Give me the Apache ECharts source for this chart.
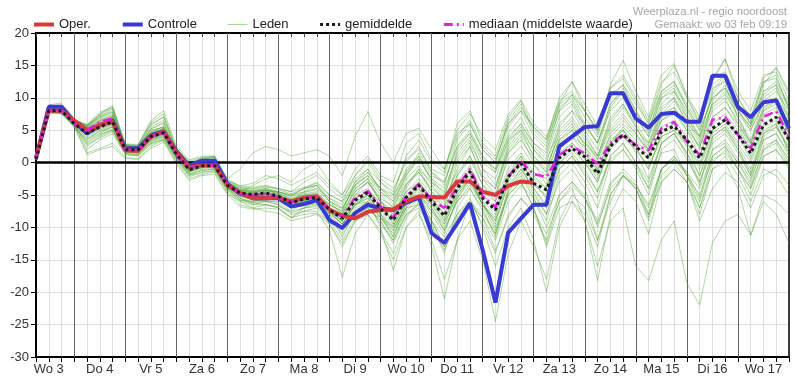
<!DOCTYPE html>
<html>
<head>
<meta charset="utf-8">
<script src="https://cdn.jsdelivr.net/npm/echarts@6/dist/echarts.min.js"></script>
<style>
html,body{margin:0;padding:0;background:#fff;}
#chart{width:796px;height:384px;}
</style>
</head>
<body>
<div id="chart"></div>
<script>
// Time steps: every 6 hours, starting Wo 3 06:00 (hour 6) up to hour 360
const startHour = 6;
const stepHours = 6;
const dayLabels = ['Wo 3','Do 4','Vr 5','Za 6','Zo 7','Ma 8','Di 9','Wo 10','Do 11','Vr 12','Za 13','Zo 14','Ma 15','Di 16','Wo 17'];
const dayBoundaries = [24,48,72,96,120,144,168,192,216,240,264,288,312,336];

const oper = [0.7,8.0,8.0, 6.5,5.0,5.8,6.3, 1.9,1.8,4.0,4.8, 1.6,-0.7,-0.4,-0.4, -3.5,-4.7,-5.5,-5.5, -5.4,-6.0,-5.4,-5.2, -7.3,-8.2,-8.6,-7.6, -7.3,-7.2,-6.0,-5.2, -5.3,-5.4,-2.9,-2.9, -4.5,-5.0,-3.6,-2.9, -3.1];

const controle = [0.7,8.6,8.6, 6.3,4.5,5.8,6.5, 2.2,2.2,4.2,4.8, 1.8,-0.5,0.3,0.3, -3.3,-4.8,-5.5,-5.5, -5.5,-6.8,-6.4,-5.8, -8.9,-10.1,-7.8,-6.5, -7.1,-7.3,-6.2,-5.4, -10.9,-12.4,-9.4,-6.3, -13.5,-21.6,-10.8,-8.6, -6.5,-6.5,2.5,4.0, 5.5,5.6,10.7,10.7, 6.8,5.4,7.5,7.7, 6.3,6.3,13.4,13.4, 8.6,7.0,9.3,9.6, 5.3];

const gemiddelde = [0.5,8.0,8.0, 6.0,4.5,5.5,6.3, 2.0,2.0,4.0,4.6, 1.3,-1.1,-0.5,-0.5, -3.5,-4.7,-4.9,-4.7, -5.2,-6.2,-5.6,-5.4, -7.3,-8.6,-5.8,-4.6, -7.1,-8.9,-5.4,-3.5, -6.0,-8.2,-4.0,-1.4, -5.5,-7.3,-2.2,-0.1, -3.2,-4.2,0.7,2.2, 0.9,-1.7,2.5,4.3, 2.5,0.7,4.8,5.6, 3.5,0.7,5.3,6.6, 4.3,1.4,5.8,7.0, 3.5];

const mediaan = [0.5,8.0,8.0, 6.0,5.0,6.3,6.8, 2.0,2.0,4.0,4.7, 1.2,-0.9,-0.4,-0.4, -3.5,-4.8,-5.0,-4.8, -5.3,-6.1,-5.5,-5.3, -7.2,-8.4,-5.4,-4.4, -6.8,-8.5,-5.2,-3.3, -5.8,-7.0,-3.7,-1.0, -5.2,-6.8,-2.2,0.2, -1.8,-2.2,1.2,2.5, 1.4,-0.2,3.0,4.3, 2.7,1.9,5.3,6.3, 3.2,1.2,6.6,7.0, 4.3,2.2,7.1,7.9, 4.0];

const leden = [
 [0.6,8.8,8.5, 6.2,5.5,6.8,7.5, 2.5,2.3,4.8,5.5, 1.5,-0.5,0.2,0.4, -3.0,-4.2,-4.5,-4.2, -4.8,-5.5,-4.8,-4.5, -6.5,-7.8,-4.5,-3.0, -5.5,-6.8,-3.2,-1.5, -4.0,-5.5,-1.5,1.0, -2.5,-4.0,1.5,3.5, 0.5,-1.5,3.5,5.0, 3.0,1.0,5.5,7.5, 5.0,3.0,7.5,8.5, 6.0,4.0,9.0,10.5, 7.5,5.0,9.5,11.0, 8.0],
 [0.4,7.5,7.8, 5.8,2.5,4.0,5.0, 1.5,1.2,3.0,3.8, 0.8,-1.8,-1.2,-1.0, -4.0,-5.5,-6.0,-5.8, -6.2,-7.5,-7.0,-6.8, -8.5,-11.0,-8.0,-7.0, -9.0,-12.5,-8.0,-6.5, -9.0,-13.0,-8.5,-6.0, -9.5,-14.0,-8.0,-5.5, -8.0,-12.0,-5.0,-3.0, -5.5,-9.0,-3.0,-1.5, -3.5,-6.5,-1.0,0.5, -2.0,-5.0,0.5,1.5, -1.0,-4.0,1.0,2.0, -0.5],
 [0.5,8.2,8.0, 6.0,4.8,5.8,6.5, 2.0,1.8,4.2,5.0, 1.2,-1.0,-0.4,-0.3, -3.6,-4.8,-5.0,-4.6, -5.0,-6.0,-5.2,-5.0, -7.0,-8.0,-5.0,-4.0, -6.5,-8.0,-4.5,-2.5, -5.0,-7.0,-3.0,-0.5, -4.5,-6.0,-1.0,1.5, -1.5,-2.5,2.5,4.0, 2.5,0.0,4.0,6.0, 4.0,2.0,6.5,7.5, 5.0,2.5,7.0,8.5, 6.0,3.0,8.0,9.0, 5.5],
 [0.7,8.0,7.5, 5.5,3.5,4.5,5.5, 1.8,1.5,3.5,4.0, 0.5,-2.0,-1.5,-1.2, -4.5,-6.5,-7.0,-6.5, -7.0,-8.5,-7.5,-7.0, -9.5,-13.0,-9.0,-8.0, -11.0,-15.0,-10.0,-8.0, -12.0,-18.0,-12.0,-9.0, -15.0,-24.5,-14.0,-9.0, -13.0,-18.0,-9.0,-5.0, -7.0,-12.0,-5.0,-2.0, -4.0,-9.0,-2.0,0.0, -3.0,-8.0,-1.0,1.0, -2.0,-6.0,-1.0,-2.0, -5.0],
 [0.6,8.5,8.3, 6.5,5.0,6.0,7.0, 2.8,2.5,5.0,5.5, 2.0,0.0,0.5,0.8, -2.5,-1.0,1.5,2.5, 2.0,1.0,1.5,2.0, 1.0,-2.0,4.0,7.9, 3.0,0.0,4.5,5.3, 2.0,-1.0,5.0,7.6, 4.0,2.0,7.5,9.7, 6.0,4.0,9.5,11.0, 8.0,5.0,10.0,12.0, 9.0,6.0,11.0,12.5, 8.5,5.0,10.0,11.5, 8.0,5.0,9.0,10.0, 7.0],
 [0.5,8.6,8.8, 6.5,5.8,7.2,8.0, 2.6,2.5,5.5,6.5, 1.8,-0.3,0.3,0.6, -3.2,-4.0,-4.3,-4.0, -4.5,-5.0,-4.5,-4.0, -5.5,-6.5,-3.0,-1.5, -4.0,-5.0,-1.5,0.5, -2.5,-4.0,1.0,3.5, -1.0,-2.5,3.5,6.0, 3.0,1.5,8.0,10.5, 8.0,5.0,12.0,15.8, 11.0,7.0,13.5,15.3, 10.0,6.5,12.0,13.5, 9.0,6.0,12.0,14.8, 11.0],
 [0.5,7.8,7.6, 5.6,1.5,2.2,3.0, 0.8,0.6,2.5,3.5, 0.0,-2.5,-1.8,-1.5, -4.8,-6.0,-6.5,-6.0, -6.5,-7.8,-7.0,-6.5, -8.0,-10.0,-7.0,-6.0, -8.5,-11.0,-7.0,-5.0, -7.5,-10.5,-6.0,-3.5, -6.5,-9.0,-3.5,-1.0, -4.0,-6.5,-1.0,1.0, -1.5,-4.5,1.0,3.0, 0.0,-3.0,3.0,4.5, 1.5,-2.0,3.5,5.0, 2.0,-1.5,4.0,5.5, 2.5],
 [0.6,8.3,8.1, 6.1,4.0,5.0,5.8, 1.7,1.5,3.8,4.5, 1.0,-1.5,-0.8,-0.7, -3.8,-5.0,-5.3,-5.0, -5.8,-6.8,-6.5,-6.2, -8.0,-11.5,-7.5,-6.0, -10.0,-16.6,-10.0,-7.5, -13.0,-21.0,-12.0,-6.0, -8.0,-11.0,-4.0,-1.0, -4.0,-7.0,0.0,2.0, 0.0,-3.0,2.5,4.0, 2.0,-1.0,4.0,5.0, 2.5,-1.0,4.5,6.0, 3.0,0.0,5.0,6.0, 2.0],
 [0.4,8.9,9.2, 6.8,5.5,7.5,8.8, 2.9,2.8,6.0,7.0, 2.2,0.2,0.8,0.9, -2.8,-3.8,-4.0,-3.6, -4.2,-4.8,-4.0,-3.5, -6.0,-7.0,-4.0,-2.5, -5.0,-7.0,-2.5,-0.5, -3.5,-6.0,-1.0,2.5, -2.0,-4.0,3.0,5.5, 2.0,0.0,6.0,8.0, 6.0,3.0,9.0,11.5, 8.0,5.0,10.5,12.0, 8.5,5.5,13.0,16.0, 11.0,8.0,13.5,14.0, 9.5],
 [0.6,8.0,7.9, 5.9,3.0,4.2,5.2, 1.6,1.4,3.2,4.0, 0.9,-1.3,-0.6,-0.6, -3.9,-5.2,-5.5,-5.2, -5.8,-6.8,-6.2,-6.0, -7.8,-9.5,-6.5,-5.5, -8.0,-10.5,-6.5,-5.0, -7.0,-10.0,-6.0,-4.0, -7.5,-11.0,-5.0,-3.0, -7.0,-13.0,-7.0,-6.0, -9.0,-16.0,-9.0,-7.0, -16.0,-18.2,-12.0,-9.0, -18.6,-22.0,-12.4,-9.0, -8.0,-11.2,-6.0,-8.0, -12.4],
 [0.5,8.4,8.2, 6.2,5.2,6.3,7.0, 2.3,2.1,4.5,5.2, 1.4,-0.8,-0.2,0.0, -3.3,-4.5,-4.7,-4.4, -4.8,-5.8,-5.0,-4.8, -6.8,-8.5,-5.5,-4.5, -7.0,-9.0,-5.0,-3.0, -5.5,-8.0,-3.5,-1.0, -5.0,-7.0,-1.5,1.0, -2.5,-4.0,1.5,3.0, 1.0,-2.0,3.0,5.0, 3.0,0.5,5.5,6.5, 4.0,1.0,6.0,7.5, 5.0,2.0,7.0,8.0, 4.5],
 [0.6,8.1,7.7, 5.7,2.0,3.5,4.5, 1.2,1.0,2.8,3.5, 0.3,-2.2,-1.5,-1.3, -4.2,-5.8,-6.2,-6.0, -6.5,-8.0,-7.5,-7.5, -10.5,-17.7,-11.0,-8.0, -10.5,-14.0,-8.5,-6.0, -9.5,-14.0,-7.0,-4.0, -7.0,-11.5,-4.5,-2.0, -5.5,-9.0,-2.0,0.0, -3.0,-7.0,0.0,2.0, -1.0,-5.0,2.0,3.5, 0.5,-3.0,3.0,4.5, 1.5,-2.0,3.5,4.5, 1.0],
 [0.7,8.7,8.6, 6.4,5.6,7.0,7.8, 2.4,2.2,5.2,6.0, 1.6,-0.4,0.4,0.5, -3.1,-4.3,-4.6,-4.3, -4.6,-5.2,-4.6,-4.2, -6.0,-7.2,-3.5,-2.0, -4.5,-6.0,-2.0,1.0, -2.0,-3.0,2.5,5.0, 1.0,-1.0,5.5,8.0, 4.0,2.0,8.0,9.5, 5.5,3.0,9.0,11.0, 7.5,5.0,11.0,12.5, 9.0,6.0,12.5,16.0, 10.0,7.0,12.5,13.5, 8.0],
 [0.5,7.9,7.9, 5.9,4.2,5.3,6.0, 1.9,1.8,3.9,4.6, 1.1,-1.2,-0.6,-0.5, -3.7,-4.9,-5.2,-4.9, -5.5,-6.5,-5.8,-5.6, -7.5,-9.0,-6.0,-5.0, -7.8,-9.8,-6.0,-4.0, -6.5,-9.5,-5.0,-2.5, -6.5,-9.5,-3.0,-0.5, -4.5,-8.0,-3.0,-1.0, -4.0,-10.0,-3.5,-1.0, -3.0,-8.0,-1.0,1.0, -2.0,-6.0,1.0,2.5, -1.0,-4.0,2.0,3.0, -0.5],
 [0.4,8.2,8.3, 6.3,4.6,5.6,6.2, 2.1,1.9,4.1,4.7, 1.3,-1.0,-0.5,-0.4, -3.5,-4.7,-5.0,-4.7, -5.2,-6.3,-5.7,-5.5, -7.5,-9.5,-6.5,-5.0, -8.0,-11.5,-7.0,-5.0, -9.0,-13.0,-8.0,-5.5, -10.0,-16.0,-10.0,-7.0, -12.0,-20.0,-10.0,-6.0, -8.0,-13.0,-5.0,-2.0, -4.0,-8.5,-1.0,1.0, -1.5,-5.5,2.0,3.0, 0.0,-3.0,3.5,4.5, 1.5],
 [0.6,8.0,7.8, 5.8,3.8,4.8,5.5, 1.7,1.6,3.5,4.3, 1.0,-1.4,-0.7,-0.6, -3.7,-5.0,-5.2,-5.0, -5.6,-6.6,-6.0,-5.8, -7.0,-8.0,-5.5,-4.5, -6.0,-8.0,-4.5,-3.0, -5.5,-9.0,-4.5,-2.5, -6.0,-10.0,-5.0,-3.0, -7.0,-12.5,-6.0,-4.0, -9.0,-18.2,-8.0,-4.0, -6.0,-11.0,-3.0,-1.0, -3.0,-7.0,0.0,2.0, -1.0,-5.0,1.0,2.0, -1.0],
 [0.5,8.5,8.7, 6.6,5.9,7.8,8.5, 2.7,2.6,6.2,7.5, 1.9,-0.2,0.7,1.0, -2.9,-3.9,-4.1,-3.8, -4.0,-4.5,-3.0,-2.0, -4.0,-5.5,-2.5,-1.0, -3.0,-4.5,0.5,2.0, -1.0,-2.0,4.0,6.5, 2.5,0.5,6.0,8.5, 5.5,3.5,10.0,12.5, 8.0,4.5,11.5,13.5, 10.0,6.5,12.5,14.0, 10.0,6.0,11.5,12.5, 8.0,5.5,11.0,12.5, 9.0],
 [0.6,8.3,8.0, 6.0,4.4,5.4,6.2, 2.0,1.9,4.0,4.8, 1.2,-1.1,-0.5,-0.5, -3.6,-4.8,-5.0,-4.8, -5.3,-6.4,-5.8,-5.6, -7.5,-9.0,-6.2,-5.0, -7.5,-9.5,-6.0,-4.5, -6.5,-9.0,-4.5,-2.0, -6.0,-8.0,-2.0,0.5, -3.5,-5.0,1.0,3.0, 0.5,-2.5,2.0,4.0, 2.0,-0.5,4.0,5.0, 3.0,0.0,5.0,6.5, 4.5,1.0,6.0,7.0, 3.5],
 [0.5,8.6,8.4, 6.3,5.3,6.6,7.3, 2.4,2.3,4.6,5.3, 1.5,-0.7,0.0,0.2, -3.2,-4.4,-4.6,-4.3, -4.5,-5.0,-4.0,-3.0, -5.0,-6.0,-2.0,0.0, -3.0,-5.0,1.0,3.5, 0.0,-1.5,6.0,8.0, 3.0,1.0,7.0,9.5, 5.0,3.0,8.5,10.0, 6.0,3.0,8.0,10.0, 7.0,4.0,9.0,11.0, 8.0,5.0,10.0,11.5, 8.0,5.5,10.5,12.0, 8.5],
 [0.5,7.7,7.5, 5.5,1.2,2.0,2.5, 0.6,0.5,2.2,3.2, -0.2,-2.8,-2.0,-1.8, -5.0,-6.8,-7.2,-7.0, -7.2,-8.5,-8.0,-7.8, -9.0,-12.0,-8.5,-7.0, -9.0,-12.0,-7.5,-5.5, -8.0,-11.0,-5.5,-3.0, -6.5,-9.0,-2.5,0.0, -3.0,-5.5,0.5,2.5, 0.0,-3.0,3.0,5.0, 2.5,-1.0,4.5,6.0, 3.0,-0.5,5.0,6.5, 4.0,0.5,5.5,6.5, 3.0],
 [0.6,8.2,8.2, 6.1,4.9,5.9,6.7, 2.2,2.0,4.3,5.0, 1.3,-0.9,-0.3,-0.2, -3.4,-4.6,-4.8,-4.5, -5.0,-6.0,-5.3,-5.1, -7.0,-8.5,-5.5,-4.5, -7.0,-9.0,-5.5,-3.5, -6.0,-8.5,-4.0,-1.5, -5.0,-7.5,-2.5,0.0, -3.0,-5.5,0.0,1.5, -1.0,-4.5,0.5,2.0, -0.5,-4.0,1.5,2.0, -2.0,-7.0,-1.0,0.0, -4.0,-11.2,-5.0,-6.0, -8.0],
 [0.4,8.4,8.5, 6.4,5.4,6.5,7.2, 2.3,2.2,4.7,5.6, 1.6,-0.6,0.1,0.3, -3.1,-4.2,-4.4,-4.2, -4.7,-5.6,-5.0,-4.7, -6.5,-7.5,-4.5,-3.0, -6.0,-7.5,-3.5,-1.5, -4.5,-6.5,-2.0,0.5, -3.5,-5.0,0.5,2.5, -0.5,-2.0,3.5,5.5, 3.0,0.5,5.0,7.0, 4.5,2.0,7.0,8.5, 5.5,2.5,8.0,9.5, 6.5,3.0,8.5,10.0, 6.0],
 [0.5,8.0,8.1, 6.0,4.3,5.2,5.9, 1.9,1.7,3.7,4.4, 1.0,-1.3,-0.7,-0.6, -3.8,-5.0,-5.3,-5.0, -5.5,-6.5,-6.0,-5.8, -7.8,-9.5,-6.5,-5.5, -8.5,-10.5,-6.5,-5.0, -7.5,-9.5,-5.0,-2.5, -6.5,-8.5,-2.0,1.0, -2.0,-4.0,2.0,4.0, 1.5,-1.0,3.0,5.5, 3.5,1.0,5.0,6.0, 2.5,-2.0,4.0,5.5, 2.5,-1.0,4.5,5.5, 2.0],
 [0.6,8.7,8.9, 6.7,5.7,7.3,8.3, 2.8,2.7,6.5,8.0, 2.5,0.4,1.0,1.0, -2.6,-3.6,-3.8,-3.5, -4.0,-4.5,-3.8,-3.2, -5.0,-6.0,-3.5,-2.0, -4.0,-5.5,-1.0,1.0, -3.0,-4.5,1.5,4.0, 0.0,-1.5,4.5,7.0, 3.0,1.0,7.0,9.0, 5.0,2.0,8.5,11.0, 7.0,4.0,10.0,11.5, 7.5,4.0,10.5,13.0, 9.0,6.0,11.0,12.0, 7.0],
 [0.5,8.1,8.0, 6.0,4.7,5.7,6.4, 2.0,1.8,3.9,4.6, 1.2,-1.2,-0.5,-0.4, -3.5,-4.5,-3.5,-2.5, -2.0,-3.0,-1.0,0.0, -3.0,-5.0,-2.0,0.5, -2.5,-4.0,0.0,2.5, -1.5,-3.0,2.5,4.5, 0.5,-1.0,4.0,6.0, 2.5,0.5,5.0,7.0, 4.0,1.0,6.5,9.0, 6.0,3.0,8.5,10.0, 7.0,3.5,9.0,11.0, 7.0,3.5,8.5,9.5, 6.0],
 [0.6,8.4,8.3, 6.2,5.0,6.1,6.9, 2.2,2.1,4.4,5.1, 1.4,-0.9,-0.3,-0.2, -3.4,-4.6,-4.9,-4.6, -5.2,-6.4,-5.8,-5.6, -7.5,-9.5,-6.5,-5.0, -8.0,-10.0,-6.0,-4.0, -7.0,-10.5,-5.5,-2.5, -6.5,-10.5,-4.5,-1.5, -5.0,-8.0,-1.0,1.0, -2.0,-5.5,1.0,3.0, 0.0,-4.0,3.0,4.5, 1.0,-3.5,4.0,5.5, 2.0,-2.0,4.5,6.0, 1.5],
 [0.5,8.3,8.4, 6.3,5.1,6.4,7.1, 2.1,2.0,4.5,5.3, 1.4,-0.8,-0.1,0.1, -3.3,-5.5,-6.5,-6.5, -6.8,-7.5,-6.0,-5.0, -6.5,-7.5,-3.0,-1.0, -4.5,-6.5,-2.0,0.5, -2.5,-5.0,0.5,3.0, -1.0,-3.5,2.0,4.5, 1.0,-1.0,4.5,6.5, 3.5,0.5,6.0,8.5, 5.5,2.0,7.5,9.5, 6.5,3.0,8.5,10.0, 6.0,2.5,8.0,9.5, 5.0],
 [0.6,7.9,7.7, 5.7,3.2,4.4,5.0, 1.4,1.2,3.0,3.6, 0.6,-1.9,-1.2,-1.0, -4.3,-6.0,-7.0,-7.5, -7.8,-9.0,-8.5,-8.0, -9.5,-12.5,-9.0,-7.5, -8.5,-11.5,-6.0,-3.5, -5.5,-8.0,-2.0,1.0, -3.5,-6.0,1.5,4.0, 0.0,-3.5,3.0,5.0, 2.0,-1.5,4.5,6.5, 4.5,1.5,6.5,8.0, 5.0,1.0,7.0,8.5, 5.5,2.0,7.5,8.5, 4.5],
 [0.5,8.6,8.7, 6.6,5.6,7.0,7.8, 2.5,2.4,5.2,6.2, 1.7,-0.4,0.4,0.5, -3.0,-4.2,-4.4,-4.0, -4.5,-5.2,-4.0,-3.5, -5.5,-7.0,-3.5,-1.5, -4.0,-6.0,-1.5,1.5, -1.5,-3.5,3.5,6.0, 2.0,0.0,6.5,9.0, 4.5,2.5,9.0,12.5, 9.0,5.5,11.5,13.0, 9.5,6.0,12.0,15.0, 10.5,7.0,13.0,14.0, 10.0,6.5,13.0,14.5, 10.5],
 [0.6,8.2,8.1, 6.1,4.4,5.5,6.3, 1.9,1.8,3.9,4.7, 1.1,-1.1,-0.6,-0.5, -3.7,-5.2,-5.8,-6.0, -6.0,-7.0,-6.5,-6.5, -8.5,-10.5,-7.5,-6.5, -9.5,-12.0,-8.0,-7.0, -10.0,-13.5,-9.0,-6.5, -8.5,-12.0,-6.0,-3.5, -5.5,-10.0,-5.0,-3.0, -5.0,-12.0,-6.0,-2.0, -3.5,-7.0,-1.0,0.5, -1.5,-4.0,1.0,2.5, 0.0,-3.5,2.0,3.5, 0.5],
 [0.4,8.0,7.8, 5.8,2.8,3.8,4.8, 1.3,1.1,3.3,4.2, 0.7,-1.7,-1.0,-0.9, -4.0,-5.8,-6.0,-5.5, -5.5,-6.0,-4.5,-3.5, -6.0,-8.0,-4.0,-2.5, -6.0,-9.5,-4.0,-1.0, -4.5,-7.0,0.0,2.5, -2.5,-5.0,2.5,5.0, 1.0,-1.5,5.5,8.0, 4.5,1.0,7.0,9.0, 5.5,2.5,8.0,10.0, 6.0,2.0,9.5,12.0, 7.0,3.0,10.0,11.5, 6.5],
 [0.7,8.5,8.4, 6.3,5.3,6.0,6.6, 2.3,2.2,4.5,5.0, 1.5,-0.6,0.0,0.1, -3.2,-4.6,-5.2,-5.2, -5.6,-6.5,-6.2,-6.0, -7.5,-9.0,-6.5,-6.0, -8.5,-10.0,-7.0,-6.5, -9.0,-11.5,-8.0,-6.0, -8.5,-13.5,-8.5,-5.5, -7.5,-11.0,-6.0,-3.5, -5.5,-9.5,-4.0,-2.0, -4.0,-8.0,-3.0,-1.0, -3.0,-9.0,-4.0,-1.5, -3.0,-7.0,-2.0,-1.0, -3.5],
 [0.5,8.4,8.6, 6.4,5.8,7.5,8.5, 2.6,2.4,5.8,7.0, 2.0,0.0,0.6,0.8, -2.8,-3.6,-3.2,-2.0, -2.5,-3.5,-2.5,-1.5, -3.5,-5.0,-1.0,1.0, -2.0,-3.0,3.0,4.5, 0.5,-1.0,4.5,6.0, 2.0,0.0,6.0,8.0, 5.5,3.5,9.0,10.5, 7.0,4.0,10.5,12.0, 8.0,4.5,10.0,11.0, 7.0,4.0,11.0,13.5, 9.0,6.0,12.5,13.0, 8.5],
 [0.6,8.0,8.1, 6.0,3.6,4.8,5.6, 1.7,1.5,3.6,4.4, 0.9,-1.4,-0.8,-0.7, -3.9,-5.5,-6.2,-6.5, -7.0,-8.5,-7.0,-6.0, -7.0,-9.0,-5.0,-3.0, -6.0,-8.5,-3.5,-1.0, -3.0,-5.5,2.0,4.5, 1.0,-1.5,3.5,5.0, 2.0,-0.5,4.0,6.0, 2.5,-1.0,3.5,5.0, 1.5,-2.5,3.0,4.5, 1.5,-3.0,2.0,3.5, 0.5,-2.5,2.5,3.5, 0.0]
];

function pairs(arr) {
  return arr.map(function (v, i) { return [startHour + stepHours * i, v]; });
}

const FONT = "'Liberation Sans', Arial, sans-serif";
const chart = echarts.init(document.getElementById('chart'), null, {renderer: 'canvas'});

const series = [];
leden.forEach(function (arr) {
  series.push({
    name: 'Leden', type: 'line', data: pairs(arr), symbol: 'none', silent: true,
    lineStyle: {color: '#3f9c1f', width: 1, opacity: 0.4},
    itemStyle: {color: '#a6d893'}, z: 2
  });
});
// reference lines (day boundaries and zero line)
series.push({
  name: 'ref', type: 'line', data: [], symbol: 'none', silent: true, z: 3,
  markLine: {
    silent: true, symbol: 'none', animation: false,
    label: {show: false},
    data: dayBoundaries.map(function (h) {
      return {xAxis: h, lineStyle: {color: '#666', width: 1, type: 'solid'}};
    }).concat([{yAxis: 0, lineStyle: {color: '#000', width: 2.5, type: 'solid'}}])
  }
});
series.push({
  name: 'Controle', type: 'line', data: pairs(controle), symbol: 'none', z: 5,
  lineStyle: {color: '#3939d4', width: 4}, itemStyle: {color: '#3939d4'}
});
series.push({
  name: 'Oper.', type: 'line', data: pairs(oper), symbol: 'none', z: 6,
  lineStyle: {color: '#d83b3b', width: 4}, itemStyle: {color: '#d83b3b'}
});
series.push({
  name: 'mediaan (middelste waarde)', type: 'line', data: pairs(mediaan), symbol: 'none', z: 7,
  lineStyle: {color: '#e61ee6', width: 2.5, type: [9, 4, 2, 4]}, itemStyle: {color: '#e61ee6'}
});
series.push({
  name: 'gemiddelde', type: 'line', data: pairs(gemiddelde), symbol: 'none', z: 8,
  lineStyle: {color: '#1a1a1a', width: 3, type: [3, 3]}, itemStyle: {color: '#1a1a1a'}
});

const option = {
  animation: false,
  textStyle: {fontFamily: FONT},
  grid: {left: 36, right: 7, top: 33, bottom: 27},
  legend: {
    left: 27, top: 13, itemWidth: 20, itemHeight: 10, itemGap: 30,
    textStyle: {fontSize: 13, color: '#222', fontFamily: FONT},
    itemStyle: {opacity: 0},
    selectedMode: false,
    data: [
      {name: 'Oper.', lineStyle: {color: '#d83b3b', width: 4, opacity: 1}},
      {name: 'Controle', lineStyle: {color: '#3939d4', width: 4, opacity: 1}},
      {name: 'Leden', lineStyle: {color: '#a6d893', opacity: 1, width: 1}},
      {name: 'gemiddelde', lineStyle: {color: '#1a1a1a', width: 3, type: [3, 3], opacity: 1}},
      {name: 'mediaan (middelste waarde)', lineStyle: {color: '#e61ee6', width: 3, type: [9, 4, 2, 4], opacity: 1}}
    ]
  },
  graphic: [
    {type: 'text', right: 9, top: 6, style: {text: 'Weerplaza.nl - regio noordoost', font: '11.3px ' + FONT, fill: '#a5a5a5'}},
    {type: 'text', right: 9, top: 19, style: {text: 'Gemaakt: wo 03 feb 09:19', font: '11.3px ' + FONT, fill: '#a5a5a5'}}
  ],
  xAxis: [{
    type: 'value', min: 6, max: 360, interval: 6,
    axisLine: {onZero: false, lineStyle: {color: '#000', width: 2}},
    axisTick: {show: true, length: 5, lineStyle: {color: '#000', width: 1}},
    axisLabel: {
      fontSize: 13, color: '#333', margin: 6, fontFamily: FONT,
      showMinLabel: true, showMaxLabel: true,
      formatter: function (v) {
        const r = Math.round(v);
        if ((r - 12) % 24 === 0) { return dayLabels[(r - 12) / 24] || ''; }
        return '';
      }
    },
    splitLine: {show: true, lineStyle: {color: '#dedede', width: 1}}
  }, {
    type: 'value', position: 'top', min: 6, max: 360, interval: 6,
    axisLine: {onZero: false, lineStyle: {color: '#000', width: 2}},
    axisTick: {show: true, inside: true, length: 4, lineStyle: {color: '#444'}},
    axisLabel: {show: false}, splitLine: {show: false}
  }],
  yAxis: [{
    type: 'value', min: -30, max: 20, interval: 5,
    axisLine: {show: true, onZero: false, lineStyle: {color: '#000', width: 2}},
    axisTick: {show: true, length: 5, lineStyle: {color: '#000'}},
    axisLabel: {fontSize: 13, color: '#333', margin: 7, fontFamily: FONT},
    splitLine: {show: true, lineStyle: {color: '#dedede', width: 1}}
  }, {
    type: 'value', position: 'right', min: -30, max: 20, interval: 5,
    axisLine: {show: true, onZero: false, lineStyle: {color: '#000', width: 1.5}},
    axisTick: {show: false}, axisLabel: {show: false}, splitLine: {show: false}
  }],
  series: series
};
chart.setOption(option);
</script>
</body>
</html>
